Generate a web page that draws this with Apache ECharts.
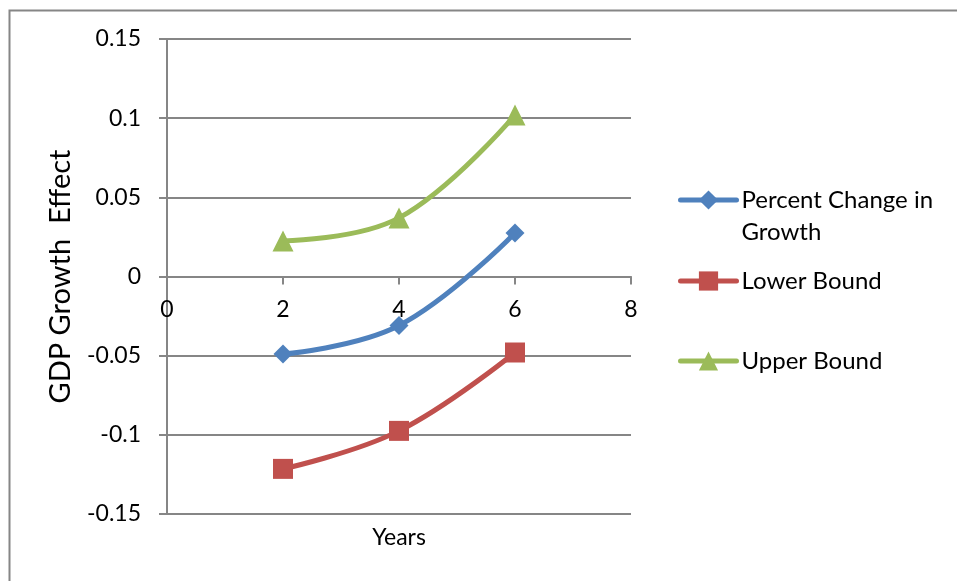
<!DOCTYPE html>
<html>
<head>
<meta charset="utf-8">
<script src="https://cdn.jsdelivr.net/npm/echarts@6/dist/echarts.min.js"></script>
<style>
  html, body { margin: 0; padding: 0; background: #fff; }
  #chart { width: 957px; height: 581px; }
</style>
</head>
<body>
<div id="chart"></div>
<script>
// Years after the change and the estimated effect on GDP growth
const years = [2, 4, 6];
const percentChange = [-0.049, -0.031, 0.0275];
const lowerBound = [-0.1215, -0.0975, -0.048];
const upperBound = [0.0225, 0.037, 0.102];

const seriesNames = ['Percent Change in Growth', 'Lower Bound', 'Upper Bound'];
const xTicks = [0, 2, 4, 6, 8];
const yTicks = [-0.15, -0.1, -0.05, 0, 0.05, 0.1, 0.15];

const FONT = 'Lato, "Open Sans", "Liberation Sans", sans-serif';
const colors = ['#4F81BD', '#C0504D', '#9BBB59'];

function pairs(xs, ys) {
  return xs.map((x, i) => [x, ys[i]]);
}

const chart = echarts.init(document.getElementById('chart'), null, { renderer: 'canvas' });

const legendText = { fontFamily: FONT, fontSize: 24, color: '#000', lineHeight: 32 };
const legendBase = {
  orient: 'vertical',
  left: 678,
  itemWidth: 56,
  itemHeight: 24,
  itemGap: 0,
  padding: 0,
  lineStyle: { width: 5 },
  textStyle: legendText
};

chart.setOption({
  animation: false,
  backgroundColor: '#fff',
  color: colors,
  graphic: [{
    type: 'rect',
    left: 7, top: 8,
    shape: { width: 1000, height: 1000 },
    style: { fill: 'none', stroke: '#868686', lineWidth: 2 },
    silent: true
  }],
  grid: { left: 167, right: 326, top: 39, bottom: 67, containLabel: false, outerBoundsMode: 'none' },
  legend: [
    Object.assign({}, legendBase, {
      top: 152,
      data: [seriesNames[0]],
      // blank first line keeps the icon level with "Percent Change in"
      formatter: () => ' \nPercent Change in\nGrowth'
    }),
    Object.assign({}, legendBase, { top: 265, data: [seriesNames[1]] }),
    Object.assign({}, legendBase, { top: 345, data: [seriesNames[2]] })
  ],
  xAxis: {
    type: 'value',
    min: xTicks[0],
    max: xTicks[xTicks.length - 1],
    interval: 2,
    name: 'Years',
    nameLocation: 'middle',
    nameGap: 12,
    nameTextStyle: { fontFamily: FONT, fontSize: 23, color: '#000' },
    axisLine: { onZero: true, lineStyle: { color: '#868686', width: 2 } },
    axisTick: { show: true, length: 8, lineStyle: { color: '#868686', width: 2 } },
    axisLabel: {
      margin: -216,
      fontFamily: FONT, fontSize: 23, color: '#000',
      formatter: v => String(v)
    },
    splitLine: { show: false }
  },
  yAxis: {
    type: 'value',
    min: yTicks[0],
    max: yTicks[yTicks.length - 1],
    interval: 0.05,
    name: 'GDP Growth  Effect',
    nameLocation: 'middle',
    nameGap: 92,
    nameRotate: 90,
    nameTextStyle: { fontFamily: FONT, fontSize: 29, color: '#000' },
    axisLine: { show: true, lineStyle: { color: '#868686', width: 2 } },
    axisTick: { show: true, length: 8, inside: false, lineStyle: { color: '#868686', width: 2 } },
    axisLabel: {
      margin: 26,
      fontFamily: FONT, fontSize: 23, color: '#000',
      formatter: v => {
        const t = yTicks.find(k => Math.abs(k - v) < 1e-9);
        return String(t !== undefined ? t : v);
      }
    },
    splitLine: { show: true, lineStyle: { color: '#868686', width: 2 } }
  },
  series: [
    {
      name: seriesNames[0], type: 'line', smooth: 0.4,
      data: pairs(years, percentChange),
      symbol: 'diamond', symbolSize: 19,
      lineStyle: { width: 5, color: colors[0], cap: 'round' },
      itemStyle: { color: colors[0] }
    },
    {
      name: seriesNames[1], type: 'line', smooth: 0.4,
      data: pairs(years, lowerBound),
      symbol: 'rect', symbolSize: 20,
      lineStyle: { width: 5, color: colors[1], cap: 'round' },
      itemStyle: { color: colors[1] }
    },
    {
      name: seriesNames[2], type: 'line', smooth: 0.4,
      data: pairs(years, upperBound),
      symbol: 'triangle', symbolSize: 21,
      lineStyle: { width: 5, color: colors[2], cap: 'round' },
      itemStyle: { color: colors[2] }
    }
  ]
});
</script>
</body>
</html>
